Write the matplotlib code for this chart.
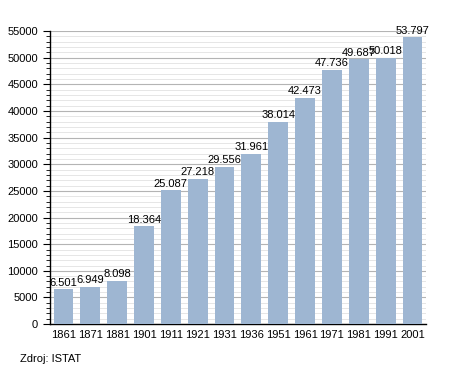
import matplotlib
matplotlib.use('Agg')
import matplotlib.pyplot as plt
from matplotlib.ticker import MultipleLocator

# population by census year
YEARS = ['1861', '1871', '1881', '1901', '1911', '1921', '1931', '1936',
         '1951', '1961', '1971', '1981', '1991', '2001']
POP = [6501, 6949, 8098, 18364, 25087, 27218, 29556, 31961,
       38014, 42473, 47736, 49687, 50018, 53797]

plt.rcParams['font.family'] = ['Liberation Sans', 'DejaVu Sans']

fig = plt.figure(figsize=(4.55, 3.73), dpi=100)
ax = fig.add_axes([0.110, 0.131, 0.826, 0.786])

x = range(len(YEARS))
ax.bar(x, POP, width=0.74, color='#9eb6d2', zorder=3)

for i, v in zip(x, POP):
    lbl = f"{v:,}".replace(',', '.')
    ax.text(i, v + 300, lbl, ha='center', va='bottom', fontsize=8, zorder=4)

ax.set_xlim(-0.5, 13.5)
ax.set_ylim(0, 55000)
ax.set_xticks(list(x))
ax.set_xticklabels(YEARS)
ax.yaxis.set_major_locator(MultipleLocator(5000))
ax.yaxis.set_minor_locator(MultipleLocator(1000))
ax.grid(True, which='major', axis='y', color='#b4b4b4', linewidth=0.8, zorder=0)
ax.grid(True, which='minor', axis='y', color='#e2e2e2', linewidth=0.6, zorder=0)

for s in ['top', 'right']:
    ax.spines[s].set_visible(False)
ax.spines['left'].set_linewidth(1.0)
ax.spines['bottom'].set_linewidth(1.0)
ax.tick_params(axis='y', which='major', length=5, labelsize=8)
ax.tick_params(axis='y', which='minor', length=3)
ax.tick_params(axis='x', length=0, labelsize=8, pad=4)

fig.text(0.044, 0.03, 'Zdroj: ISTAT', fontsize=8)

fig.savefig('out.png', dpi=100)
